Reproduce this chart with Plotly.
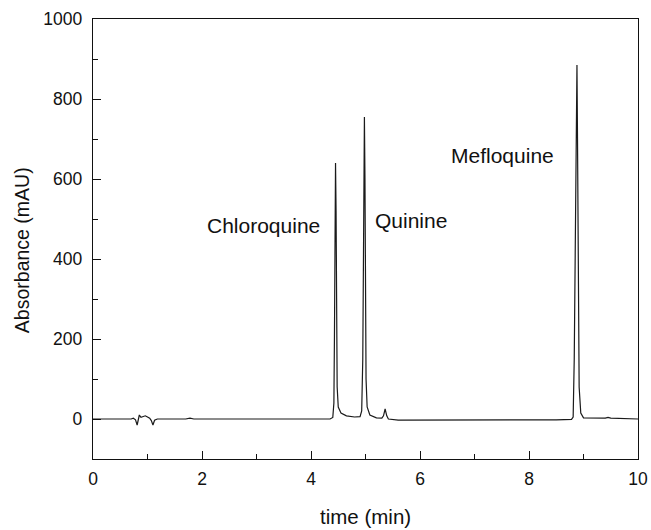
import plotly.graph_objects as go

# Chromatogram trace (time in min, absorbance in mAU)
time_min = [0.00, 0.70, 0.74, 0.78, 0.81, 0.83, 0.85, 0.88, 0.92, 0.96, 1.00, 1.04, 1.07, 1.10, 1.13, 1.18,
            1.70, 1.78, 1.85, 4.00, 4.35, 4.40, 4.42, 4.43, 4.44, 4.45, 4.46, 4.47, 4.48, 4.50,
            4.55, 4.65, 4.80, 4.90, 4.93, 4.95, 4.96, 4.97, 4.98, 4.99, 5.00, 5.01, 5.03,
            5.08, 5.20, 5.30, 5.33, 5.36, 5.39, 5.42, 5.60, 7.00, 8.50, 8.78, 8.81, 8.83,
            8.85, 8.87, 8.88, 8.89, 8.90, 8.92, 8.95, 9.00, 9.40, 9.45, 9.50, 10.00]
absorbance = [0, 0, 2, -2, -15, 2, 10, 4, 7, 8, 5, 2, -4, -15, -3, 0,
              0, 2, 0, 0, 0, 4, 40, 200, 500, 640, 520, 250, 80, 30,
              15, 8, 5, 6, 20, 150, 450, 720, 755, 600, 300, 100, 30,
              10, 3, 2, 8, 25, 8, 0, -3, -3, -2, -1, 5, 150,
              550, 880, 885, 700, 350, 80, 15, 3, 2, 4, 2, 0]

labels = ["Chloroquine", "Quinine", "Mefloquine"]
label_x = [3.13, 5.84, 7.52]
label_y = [485, 497, 660]

x_ticks = [0, 2, 4, 6, 8, 10]
y_ticks = [0, 200, 400, 600, 800, 1000]

font = "Liberation Sans, Arial, Helvetica, sans-serif"
ink = "#111111"

fig = go.Figure()
fig.add_trace(go.Scatter(x=time_min, y=absorbance, mode="lines",
                         line=dict(color="#1a1a1a", width=1.2), showlegend=False))

for t, xv, yv in zip(labels, label_x, label_y):
    fig.add_annotation(x=xv, y=yv, text=t, showarrow=False,
                       font=dict(family=font, size=21, color=ink))

# axis titles
fig.add_annotation(xref="paper", yref="paper", x=0.5, y=-0.13, text="time (min)",
                   showarrow=False, font=dict(family=font, size=20.5, color=ink),
                   xanchor="center", yanchor="middle")
fig.add_annotation(xref="paper", yref="paper", x=-0.13, y=0.475, text="Absorbance (mAU)",
                   showarrow=False, textangle=-90, font=dict(family=font, size=19.5, color=ink),
                   xanchor="center", yanchor="middle")

axis_common = dict(showgrid=False, zeroline=False, showline=True, linecolor=ink,
                   linewidth=1.4, mirror=True, ticks="inside", ticklen=8, tickwidth=1.2,
                   tickcolor=ink, tickfont=dict(family=font, size=17.5, color=ink),
                   automargin=False)

fig.update_xaxes(range=[0, 10], tickvals=x_ticks, ticktext=[str(v) for v in x_ticks],
                 minor=dict(ticks="inside", ticklen=5, tickwidth=1.2, tickcolor=ink, dtick=1),
                 ticklabelstandoff=4, **axis_common)
fig.update_yaxes(range=[-100, 1000], tickvals=y_ticks, ticktext=[str(v) for v in y_ticks],
                 minor=dict(ticks="inside", ticklen=5, tickwidth=1.2, tickcolor=ink, dtick=100, tick0=0),
                 ticklabelstandoff=6, **axis_common)

fig.update_layout(width=651, height=530, margin=dict(l=93, r=13, t=19, b=71),
                  plot_bgcolor="white", paper_bgcolor="white")

fig.write_html("out.html", config={"displayModeBar": False},
               post_script="document.body.style.margin='0';document.body.style.overflow='hidden';")
